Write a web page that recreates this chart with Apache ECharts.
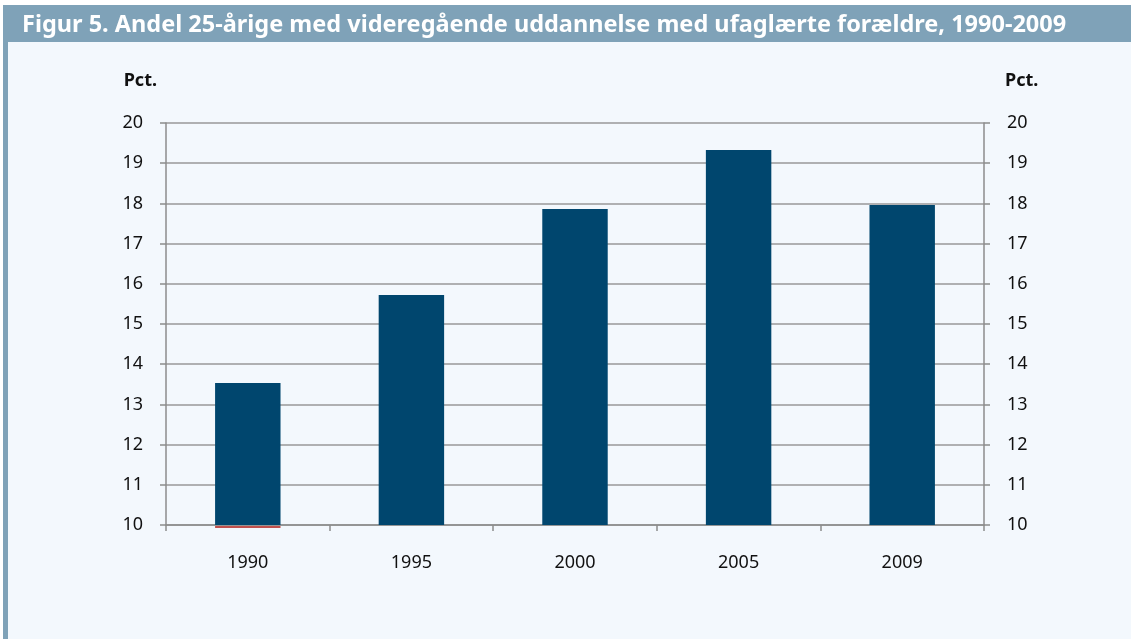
<!DOCTYPE html>
<html><head><meta charset="utf-8">
<script src="https://cdn.jsdelivr.net/npm/echarts@6/dist/echarts.min.js"></script>
<style>html,body{margin:0;padding:0;background:#fff;}#c{width:1131px;height:639px;}</style>
</head><body><div id="c"></div>
<script>
const titleText = 'Figur 5. Andel 25-årige med videregående uddannelse med ufaglærte forældre, 1990-2009';
const unitLabel = 'Pct.';
const categories = ['1990', '1995', '2000', '2005', '2009'];
const shareValues = [13.53, 15.72, 17.86, 19.33, 17.96];
const redMarkValues = [10, null, null, null, null];
const yMin = 10, yMax = 20, yInterval = 1;

const chart = echarts.init(document.getElementById('c'), null, {renderer: 'canvas'});
const fontFam = '"Noto Sans", "Open Sans", sans-serif';
const labelStyle = {color: '#111', fontSize: 18, fontFamily: fontFam};
const redData = redMarkValues.map((v, i) => [i, v]).filter(d => d[1] != null);
chart.setOption({
  backgroundColor: '#ffffff',
  animation: false,
  graphic: [
    {type: 'rect', left: 3, top: 42, shape: {width: 1128, height: 597}, style: {fill: '#F3F8FD'}, z: -10},
    {type: 'rect', left: 3, top: 5, shape: {width: 1128, height: 37}, style: {fill: '#7FA2B8'}, z: -9},
    {type: 'rect', left: 3, top: 42, shape: {width: 5, height: 597}, style: {fill: '#7FA2B8'}, z: -9}
  ],
  title: {
    text: titleText, left: 17, top: 8,
    textStyle: {color: '#fff', fontSize: 23.5, fontWeight: 'bold', fontFamily: fontFam}
  },
  grid: {left: 166, right: 147, top: 123, bottom: 114, containLabel: false},
  xAxis: {
    type: 'category', data: categories,
    axisLine: {lineStyle: {color: '#8c8c8c', width: 1.5}},
    axisTick: {show: true, length: 6, lineStyle: {color: '#8c8c8c', width: 1.5}},
    axisLabel: Object.assign({margin: 29}, labelStyle)
  },
  yAxis: [
    {
      type: 'value', min: yMin, max: yMax, interval: yInterval, position: 'left',
      name: unitLabel, nameLocation: 'end', nameGap: 33,
      nameTextStyle: {color: '#111', fontSize: 18, fontWeight: 'bold', fontFamily: fontFam, align: 'right', padding: [0, 9, 0, 0]},
      axisLine: {show: true, lineStyle: {color: '#8c8c8c', width: 1.5}},
      axisTick: {show: true, length: 6, lineStyle: {color: '#8c8c8c', width: 1.5}},
      splitLine: {show: true, lineStyle: {color: '#999', width: 1.5}},
      axisLabel: Object.assign({margin: 23}, labelStyle)
    },
    {
      type: 'value', min: yMin, max: yMax, interval: yInterval, position: 'right',
      name: unitLabel, nameLocation: 'end', nameGap: 33,
      nameTextStyle: {color: '#111', fontSize: 18, fontWeight: 'bold', fontFamily: fontFam, align: 'left', padding: [0, 0, 0, 21]},
      axisLine: {show: true, lineStyle: {color: '#8c8c8c', width: 1.5}},
      axisTick: {show: true, length: 6, lineStyle: {color: '#8c8c8c', width: 1.5}},
      splitLine: {show: false},
      axisLabel: Object.assign({margin: 23}, labelStyle)
    }
  ],
  series: [
    {type: 'bar', data: shareValues, barWidth: '40%', itemStyle: {color: '#00466E'}, z: 3},
    {
      type: 'custom', data: redData, z: 4, clip: false,
      renderItem: function (params, api) {
        const p = api.coord([api.value(0), api.value(1)]);
        const w = api.size([1, 0])[0] * 0.4;
        return {type: 'rect', shape: {x: p[0] - w / 2, y: p[1] + 1, width: w, height: 2}, style: {fill: '#C0504D'}};
      }
    }
  ]
});
</script>
</body></html>
